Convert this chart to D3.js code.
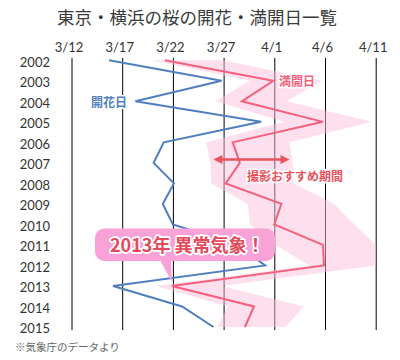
<!DOCTYPE html>
<html><head><meta charset="utf-8">
<script src="https://cdn.jsdelivr.net/npm/d3@7"></script>
<style>
html,body{margin:0;padding:0;background:#fff;}
svg{display:block;font-family:"Noto Sans CJK JP","Noto Sans",sans-serif;}
</style></head>
<body>
<svg id="c" width="400" height="360"></svg>
<script>
// ---- data (day numbers counted from March 1: 3/12 = 12, 4/1 = 32) ----
const years = [2002,2003,2004,2005,2006,2007,2008,2009,2010,2011,2012,2013,2014,2015];
const bloomDay = [15.7,26.8,18.3,30.7,21.1,20.1,22.1,21.0,22.0,28.3,31.1,16.1,22.9,26.0];      // 開花日
const fullBloomDay = [21.2,31.9,28.8,36.8,27.9,28.6,27.2,32.7,32.0,36.8,36.9,21.9,30.0,29.1]; // 満開日
const shootStart = [19.9,29.6,26.2,33.0,25.3,25.7,25.8,29.4,29.6,32.1,35.5,20.4,27.4,26.4];   // 撮影おすすめ期間 始
const shootEnd   = [26.9,36.7,33.2,41.6,33.5,33.8,33.9,37.9,39.9,42.0,42.0,26.8,34.9,33.1];   // 撮影おすすめ期間 終
const tickDays = [12,17,22,27,32,37,42];
const tickLabels = ["3/12","3/17","3/22","3/27","4/1","4/6","4/11"];

const svg = d3.select("#c");
const x = d3.scaleLinear().domain([12,42]).range([71.5,375.7]);
const y = d3.scalePoint().domain(years).range([60.3,327]);
const plotTop = 58, plotBottom = 330;

// title
svg.append("text").attr("x",57).attr("y",24).attr("font-size",17.5).attr("fill","#3a3a3a")
  .text("東京・横浜の桜の開花・満開日一覧");

// grid + top labels
const gx = svg.append("g").attr("transform",`translate(0,${plotTop})`)
  .call(d3.axisTop(x).tickValues(tickDays).tickFormat((d,i)=>tickLabels[i]).tickSize(-(plotBottom-plotTop)));
gx.select(".domain").remove();
gx.selectAll(".tick line").attr("stroke","#000").attr("stroke-width",1);
gx.selectAll(".tick text").attr("y",-6).attr("dx",-3).attr("font-size",13).attr("fill","#333")
  .attr("font-family","Lato,'Noto Sans',sans-serif");

// year labels
const gy = svg.append("g").attr("transform","translate(50,0)")
  .call(d3.axisLeft(y).tickSize(0).tickPadding(0));
gy.select(".domain").remove();
gy.selectAll(".tick text").attr("font-size",13).attr("fill","#333").attr("dy","0.45em")
  .attr("font-family","Lato,'Noto Sans',sans-serif");

// band (撮影おすすめ期間)
const bandPts = years.map((yr,i)=>[x(shootStart[i]),y(yr)])
  .concat(years.map((yr,i)=>[x(shootEnd[i]),y(yr)]).reverse());
svg.append("path").attr("d", d3.line()(bandPts)+"Z").attr("fill","#fbbfdc").attr("fill-opacity",0.5);

// lines
const line = d3.line();
svg.append("path").attr("d", line(years.map((yr,i)=>[x(bloomDay[i]),y(yr)])))
  .attr("fill","none").attr("stroke","#4f7fbf").attr("stroke-width",2).attr("stroke-linejoin","miter");
svg.append("path").attr("d", line(years.map((yr,i)=>[x(fullBloomDay[i]),y(yr)])))
  .attr("fill","none").attr("stroke","#f6607f").attr("stroke-width",2).attr("stroke-linejoin","miter");

// labels with white halo
function label(tx,ty,str,col,size,anchor){
  svg.append("text").attr("x",tx).attr("y",ty).attr("font-size",size).attr("font-weight","bold")
    .attr("fill",col).attr("stroke","#fff").attr("stroke-width",3).attr("stroke-linejoin","round")
    .attr("paint-order","stroke").attr("text-anchor",anchor||"start").text(str);
}
label(91, y(2004)+5.5, "開花日", "#4f7fbf", 12);
label(279, y(2003)+5, "満開日", "#f6607f", 12);
label(247, y(2007)+18, "撮影おすすめ期間", "#e8505c", 12);

// arrow
const ay = y(2007)-3.5, ax1 = x(26.0), ax2 = x(33.5), red="#e8545e";
svg.append("line").attr("x1",ax1+5).attr("x2",ax2-5).attr("y1",ay).attr("y2",ay).attr("stroke",red).attr("stroke-width",2.5);
svg.append("path").attr("d",`M${ax1},${ay}L${ax1+9},${ay-4.5}L${ax1+9},${ay+4.5}Z`).attr("fill",red);
svg.append("path").attr("d",`M${ax2},${ay}L${ax2-9},${ay-4.5}L${ax2-9},${ay+4.5}Z`).attr("fill",red);

// callout
const cx0 = 95, cx1 = 275, cy0 = 228.5, cy1 = 261;
const tipX = x(fullBloomDay[11]), tipY = y(2013)-4;
const cg = svg.append("g");
cg.append("rect").attr("x",cx0).attr("y",cy0).attr("width",cx1-cx0).attr("height",cy1-cy0).attr("rx",9).attr("fill","#f8a2d8");
cg.append("path").attr("d",`M160,${cy1-1}L${tipX},${tipY}L171,${cy1-1}Z`).attr("fill","#f8a2d8");
cg.append("text").attr("x",110).attr("y",251.5).attr("font-size",18).attr("font-weight","bold")
  .attr("fill","#e44a5a").attr("stroke","#fff").attr("stroke-width",3.5).attr("stroke-linejoin","round")
  .attr("paint-order","stroke").text("2013年 異常気象！");

// footer
svg.append("text").attr("x",15).attr("y",351).attr("font-size",10.5).attr("fill","#666").text("※気象庁のデータより");
</script>
</body></html>
